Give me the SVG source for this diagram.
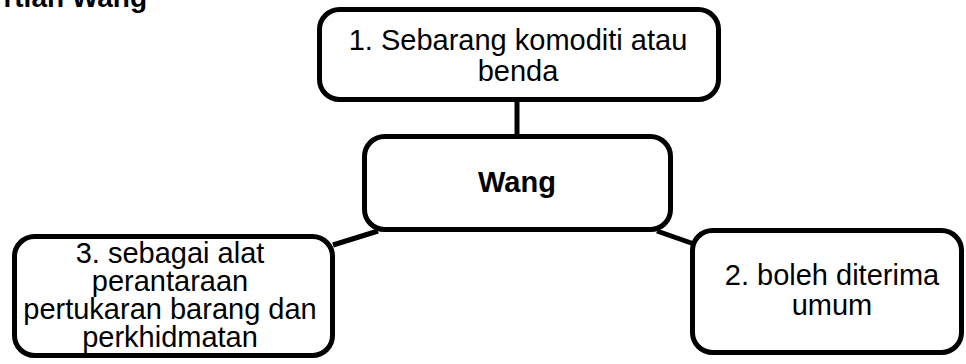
<svg xmlns="http://www.w3.org/2000/svg" width="966" height="364" viewBox="0 0 966 364">
<style>
.box{fill:#fff;stroke:#000;stroke-width:5}
.t{font-family:"Liberation Sans",Arial,sans-serif;font-size:29px;fill:#000;text-anchor:middle}
.b{font-weight:bold}
.c{stroke:#000;stroke-width:5;fill:none}
</style>
<rect width="966" height="364" fill="#fff"/>
<text class="t b" x="147" y="7" style="text-anchor:end;font-size:28px">rtian Wang</text>
<g id="connectors">
<line class="c" x1="517" y1="100" x2="517" y2="137"/>
<line class="c" x1="333" y1="245" x2="378" y2="231"/>
<line class="c" x1="657" y1="231" x2="694" y2="244"/>
</g>
<g id="node1">
<rect class="box" x="319.5" y="9.5" width="399" height="90" rx="20"/>
<text class="t" x="518" y="50">1. Sebarang komoditi atau</text>
<text class="t" x="518" y="81">benda</text>
</g>
<g id="center">
<rect class="box" x="364.5" y="136.5" width="306" height="93" rx="20"/>
<text class="t b" x="517" y="192">Wang</text>
</g>
<g id="node3">
<rect class="box" x="14.5" y="236.5" width="318" height="119" rx="20"/>
<text class="t" x="170" y="263">3. sebagai alat</text>
<text class="t" x="170" y="291">perantaraan</text>
<text class="t" x="170" y="319">pertukaran barang dan</text>
<text class="t" x="170" y="347">perkhidmatan</text>
</g>
<g id="node2">
<rect class="box" x="692.5" y="230.5" width="269" height="122" rx="20"/>
<text class="t" x="832" y="285">2. boleh diterima</text>
<text class="t" x="832" y="315">umum</text>
</g>
</svg>
